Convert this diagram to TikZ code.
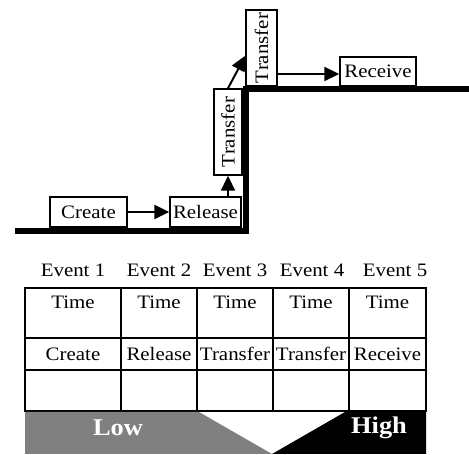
\documentclass[tikz,border=0pt]{standalone}
\usepackage{fontspec}
\setmainfont{Liberation Serif}[FakeStretch=1.1]
\usetikzlibrary{arrows.meta,calc}
\begin{document}
\begin{tikzpicture}[x=1pt,y=1pt,
  box/.style={draw,line width=1.4pt,inner sep=0pt,font=\fontsize{19}{21}\selectfont},
  lbl/.style={inner sep=0pt,font=\fontsize{19}{21}\selectfont},
  big/.style={inner sep=0pt,text=white,font=\fontsize{24}{26}\selectfont\bfseries},
  conn/.style={line width=2pt,-{Triangle[length=15pt,width=14pt]}},
  cell/.style={line width=1.4pt}]
\useasboundingbox (0,0) rectangle (469,455);
% thick step line
\draw[line width=6pt,line join=miter] (15,223.5) -- (246,223.5) -- (246,365.5) -- (469,365.5);
% boxes
\node[box,minimum width=77pt,minimum height=30pt] (create) at (88.5,243) {Create};
\node[box,minimum width=71pt,minimum height=30pt] (release) at (205.5,243) {Release};
\node[box,minimum width=28pt,minimum height=86pt] (tr1) at (228,323) {\rotatebox{90}{Transfer}};
\node[box,minimum width=31pt,minimum height=76pt] (tr2) at (261.5,407) {\rotatebox{90}{Transfer}};
\node[box,minimum width=76pt,minimum height=29pt] (receive) at (378,383.5) {Receive};
% connectors
\draw[conn] (create.east) -- (release.west);
\draw[conn] (tr1.south |- release.north) -- (tr1.south);
\draw[conn] (tr1.north) -- ($(tr2.south west)+(0,31)$);
\draw[conn] (tr2.east |- 0,381) -- (receive.west |- 0,381);
% event labels
\node[lbl] (e1) at (73,185) {Event 1};
\node[lbl] (e2) at (159,185) {Event 2};
\node[lbl] (e3) at (235,185) {Event 3};
\node[lbl] (e4) at (312,185) {Event 4};
\node[lbl] (e5) at (395,185) {Event 5};
% table
\foreach \xa/\xb in {25/121,121/197,197/273,273/349,349/426}{
  \draw[cell] (\xa,167) rectangle (\xb,117);
  \draw[cell] (\xa,117) rectangle (\xb,85);
  \draw[cell] (\xa,85) rectangle (\xb,44);
}
\node[lbl] (t1) at (73,153) {Time};
\node[lbl] (t2) at (159,153) {Time};
\node[lbl] (t3) at (235,153) {Time};
\node[lbl] (t4) at (311,153) {Time};
\node[lbl] (t5) at (387.5,153) {Time};
\node[lbl] (a1) at (73,101) {Create};
\node[lbl] (a2) at (159,101) {Release};
\node[lbl] (a3) at (235,101) {Transfer};
\node[lbl] (a4) at (311,101) {Transfer};
\node[lbl] (a5) at (387.5,101) {Receive};
% low/high bar
\fill[gray] (25,43) -- (199,43) -- (272,1) -- (25,1) -- cycle;
\fill[black] (345,43) -- (426,43) -- (426,1) -- (272,1) -- cycle;
\node[big] (low) at (118,27) {Low};
\node[big] (high) at (379,27) {High};
\end{tikzpicture}
\end{document}
